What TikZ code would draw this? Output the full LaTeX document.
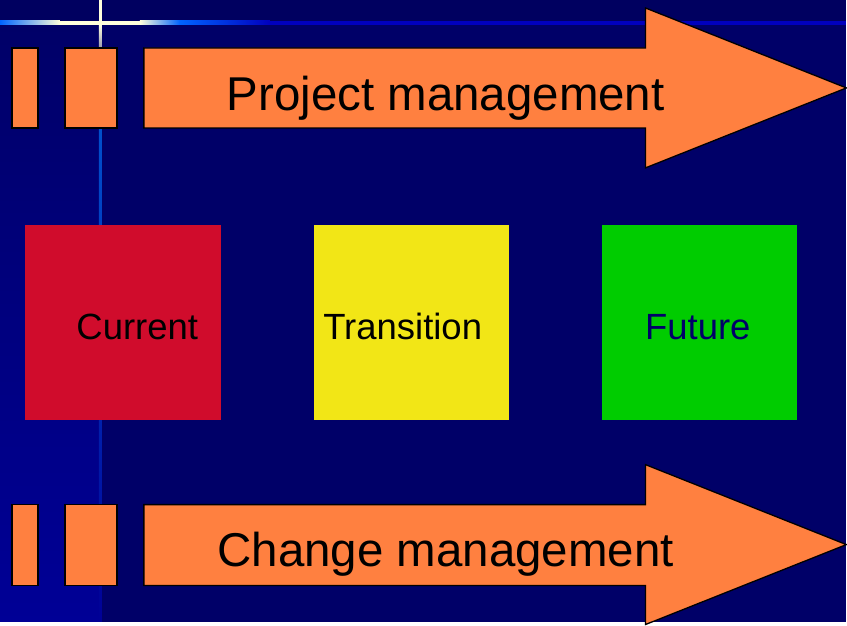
\documentclass[tikz,border=0pt]{standalone}
\usepackage{fontspec}
\setmainfont{Liberation Sans}
\usepackage{tikz}

\definecolor{navy}{RGB}{0,0,104}
\definecolor{navytop}{RGB}{0,0,96}
\definecolor{stripblue}{RGB}{0,0,150}
\definecolor{glowblue}{RGB}{0,100,255}
\definecolor{lineblue}{RGB}{0,0,190}
\definecolor{cream}{RGB}{255,255,220}
\definecolor{arroworange}{RGB}{255,128,64}
\definecolor{curred}{RGB}{208,12,44}
\definecolor{transyellow}{RGB}{242,230,22}
\definecolor{futgreen}{RGB}{0,204,0}

\begin{document}
\begin{tikzpicture}[x=1pt, y=-1pt,
    bar/.style={fill=arroworange, draw=black, line width=1.3pt},
    banner/.style={font=\fontsize{47.5}{52}\selectfont, anchor=base, text=black},
    label/.style={font=\fontsize{36.5}{40}\selectfont, anchor=base west}]
        % background with the glowing lines
        \fill[navy] (0,0) rectangle (847,622);
        \fill[navytop] (0,0) rectangle (847,21);
        \shade[top color=navy, bottom color=stripblue] (0,25) rectangle (99,622);
        \shade[left color=glowblue, right color=cream] (0,21) rectangle (60,25);
        \fill[cream] (60,21) rectangle (140,25);
        \shade[left color=cream, right color=glowblue] (140,21) rectangle (180,25);
        \shade[left color=glowblue, right color=lineblue] (180,21) rectangle (270,25);
        \fill[lineblue] (270,21) rectangle (847,25);
        \fill[cream] (99,0) rectangle (102,21);
        \shade[top color=cream, bottom color=cream!60!navy] (99,25) rectangle (102,48);
        \shade[top color=glowblue!80!black, bottom color=stripblue] (99,128) rectangle (102,622);

        % top arrow
        \coordinate (p0) at (144,48);
        \coordinate (p1) at (646,48);
        \coordinate (p2) at (646,8);
        \coordinate (p3) at (847,88);
        \coordinate (p4) at (646,168);
        \coordinate (p5) at (646,128);
        \coordinate (p6) at (144,128);
        \draw[bar] (12,48) rectangle (38,128);
        \draw[bar] (65,48) rectangle (117,128);
        \draw[bar] (p0) -- (p1) -- (p2) -- (p3) -- (p4) -- (p5) -- (p6) -- cycle;
        \node[banner] (pm) at (446,111) {Project management};

        % bottom arrow
        \coordinate (c0) at (144,505);
        \coordinate (c1) at (646,505);
        \coordinate (c2) at (646,465);
        \coordinate (c3) at (847,545);
        \coordinate (c4) at (646,625);
        \coordinate (c5) at (646,586);
        \coordinate (c6) at (144,586);
        \draw[bar] (12,505) rectangle (38,586);
        \draw[bar] (65,505) rectangle (117,586);
        \draw[bar] (c0) -- (c1) -- (c2) -- (c3) -- (c4) -- (c5) -- (c6) -- cycle;
        \node[banner] (cm) at (446,567) {Change management};

        % the three states
        \fill[curred] (25,225) rectangle (221,420);
        \fill[transyellow] (314,225) rectangle (509,420);
        \fill[futgreen] (602,225) rectangle (798,420);
        \node[label, text=black] (cur) at (73,340) {Current};
        \node[label, text=black] (tra) at (320,340) {Transition};
        \node[label, text=navy] (fut) at (642,340) {Future};

        \useasboundingbox (0,0) rectangle (847,622);
    \end{tikzpicture}
\end{document}
